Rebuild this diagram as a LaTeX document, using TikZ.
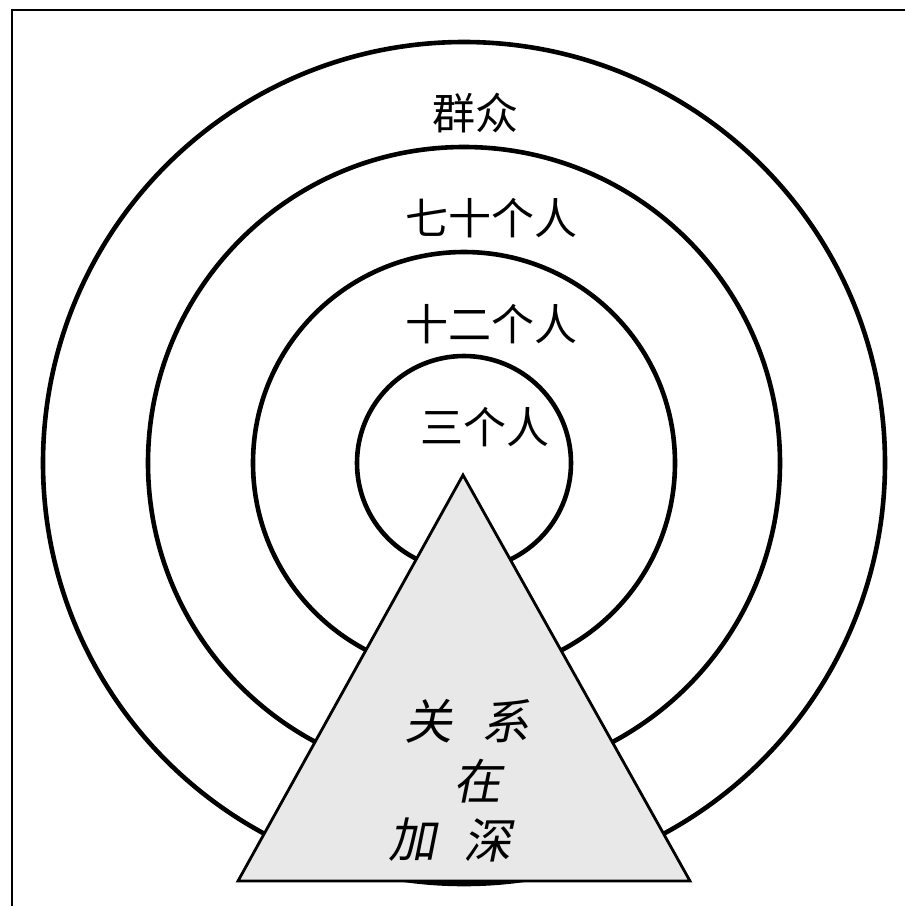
\documentclass[tikz,border=0pt]{standalone}
\usepackage{fontspec}
\newfontfamily\cjk{Noto Sans CJK SC}
\newfontfamily\cjkit[FakeSlant=0.2]{Noto Sans CJK SC}
\definecolor{trifill}{HTML}{E8E8E8}
\tikzset{
  ring/.style={draw=black, line width=4.6pt},
  frameline/.style={draw=black, line width=2.6pt},
  tri/.style={draw=black, fill=trifill, line width=2.8pt, line join=miter},
  ringlabel/.style={inner sep=0pt, font=\cjk\fontsize{43}{46}\selectfont},
  deeplabel/.style={inner sep=0pt, font=\cjkit\fontsize{48}{52}\selectfont},
}
\begin{document}
\begin{tikzpicture}[x=1pt, y=-1pt]
\useasboundingbox (0,0) rectangle (905,906);
% frame (top and left)
\draw[frameline] (905,10) -- (12,10) -- (12,906);
% concentric rings
\coordinate (c) at (464,463);
\draw[ring] (c) circle (421);
\draw[ring] (c) circle (316);
\draw[ring] (c) circle (211);
\draw[ring] (c) circle (107);
% ring labels
\node[ringlabel] (l1) at (475,113) {群众};
\node[ringlabel] (l2) at (491,218) {七十个人};
\node[ringlabel] (l3) at (491,324) {十二个人};
\node[ringlabel] (l4) at (485,427) {三个人};
% triangle
\coordinate (apex) at (463,475);
\coordinate (bl) at (238,881);
\coordinate (br) at (690,881);
\draw[tri] (apex) -- (bl) -- (br) -- cycle;
% slanted text
\node[deeplabel] (g1) at (428,721) {关};
\node[deeplabel] (g2) at (505,721) {系};
\node[deeplabel] (g3) at (477,781) {在};
\node[deeplabel] (g4) at (412,840) {加};
\node[deeplabel] (g5) at (487,840) {深};
\end{tikzpicture}
\end{document}
